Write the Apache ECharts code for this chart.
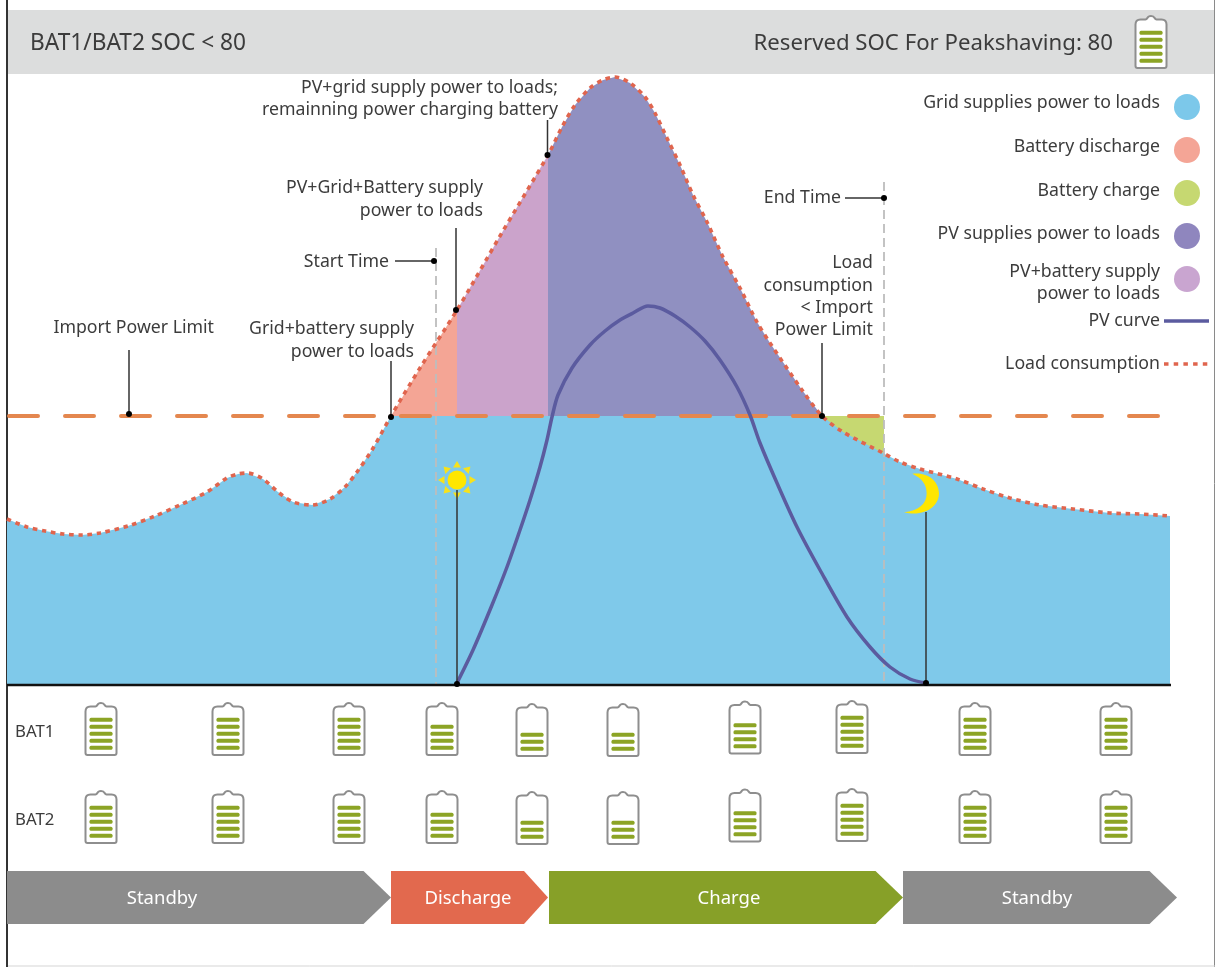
<!DOCTYPE html>
<html>
<head>
<meta charset="utf-8">
<style>html,body{margin:0;padding:0;background:#fff}#c{width:1215px;height:967px}</style>
<script src="https://cdn.jsdelivr.net/npm/echarts@6/dist/echarts.min.js"></script>
</head>
<body>
<div id="c"></div>
<script>
// ---- data (x = time position, y = power level) ----
const loadTime = [7,27,45,63,82,100,128,155,180,207,227,238,247,263,278,293,312,330,345,357,372,391,420,457,500,548,562,575,590,603,615,630,645,655,667,680,693,707,723,740,757,770,802,822,843,883,900,920,957,983,1010,1040,1073,1110,1140,1170];
const loadPower = [166,158,154,151,150,152,159,169,180,193,207,211,212,206,193,183,180,186,198,213,235,269,317,375,449,530,558,580,597,605,608,602,588,572,547,520,490,463,428,397,363,342,295,269,253,232,223,216,206,196,187,180,176,172,171,169];
const pvTime = [457,473,492,507,520,530,540,547,552,558,572,590,605,620,633,648,660,675,690,705,720,737,750,760,777,797,820,847,870,890,910,926];
const pvPower = [2,35,80,118,155,185,218,245,268,290,317,340,354,365,372,379,377,369,358,344,325,298,270,242,202,158,115,68,38,18,6,2];
const importLimit = 269;
const startTime = 436, endTime = 884;
const dischargeStart = 391, pvBatteryStart = 457, pvStart = 548, limitEnd = 822;
const startLineTop = 437, endLineTop = 503;

const batteryTime = [101,228,349,442,532,623,745,852,975,1116];
const bat1Bars = [5,5,5,4,3,3,4,5,5,5];
const bat2Bars = [5,5,5,4,3,3,4,5,5,5];
const headerBars = 5;

const phaseNames = ['Standby','Discharge','Charge','Standby'];
const phaseStart = [7,391,549,903];
const phaseEnd = [391,548,903,1177];

const legendNames = ['Grid supplies power to loads','Battery discharge','Battery charge','PV supplies power to loads','PV+battery supply|power to loads','PV curve','Load consumption'];

// ---- styles ----
const C = {blue:'#7FC9EA',salmon:'#F4A595',green:'#C6D871',pv:'#9090C1',pvBat:'#CBA3CB',
  load:'#E0654E',limit:'#E5834F',pvLine:'#5B5B9F',bar:'#8CA425',shell:'#8E8E8E',text:'#3C3C3C',sun:'#FFE600'};
const FONT = '"Noto Sans","Open Sans",sans-serif';
const base = 685;                 // pixel row of power 0
const lv = py => base - py;       // layout helper: pixel row -> axis level

const pairs = (xs, ys) => xs.map((x,i)=>[x,ys[i]]);
const load = pairs(loadTime, loadPower);
const between = (a,b) => load.filter(p=>p[0]>=a && p[0]<=b);
const gridPart = load.map(p=>[p[0],Math.min(p[1],importLimit)]);

function area(name,data,color,z){
  return {name,type:'line',data,showSymbol:false,smooth:false,silent:true,z,
    lineStyle:{width:0},itemStyle:{color},areaStyle:{color,opacity:1}};
}
function line(name,data,color,width,type,z,extra){
  return Object.assign({name,type:'line',data,showSymbol:false,silent:true,z,
    lineStyle:{color,width,type}},extra||{});
}

// ---- text ----
const SMALL = 17.7, BIG = 22.2;
const labels = [
  ['BAT1/BAT2 SOC < 80',30,lv(43.5),'left',22.7],
  ['Reserved SOC For Peakshaving: 80',1113,lv(43.5),'right',BIG],
  ['PV+grid supply power to loads;',558,lv(87.5),'right',SMALL],
  ['remainning power charging battery',558,lv(110),'right',SMALL],
  ['PV+Grid+Battery supply',483,lv(188),'right',SMALL],
  ['power to loads',483,lv(210.5),'right',SMALL],
  ['Start Time',389,lv(261.5),'right',SMALL],
  ['Import Power Limit',214,lv(327.5),'right',SMALL],
  ['Grid+battery supply',414,lv(329),'right',SMALL],
  ['power to loads',414,lv(351.5),'right',SMALL],
  ['End Time',841,lv(198),'right',SMALL],
  ['Load',873,lv(263),'right',SMALL],
  ['consumption',873,lv(285.5),'right',SMALL],
  ['< Import',873,lv(307.5),'right',SMALL],
  ['Power Limit',873,lv(329.5),'right',SMALL],
  ['BAT1',15,lv(732.5),'left',16.8],
  ['BAT2',15,lv(820.5),'left',16.8]
];
const legendRows = [103,146.5,190.5,233.5,271.5,320.5,364];
legendNames.forEach((n,i)=>{
  const parts = n.split('|');
  parts.forEach((t,k)=>labels.push([t,1160,lv(legendRows[i]+k*22),'right',SMALL]));
});
const swatchRows = [107,150,193,236,279];
const swatchColors = ['#7CC8EA','#F4A596','#C6D871','#8F86BE','#C9A5D0'];

// leaders: x1,y1,x2,y2 with a dot at the second end
const leaders = [
  [129,lv(350),129,lv(414)],
  [391,lv(361),391,lv(417)],
  [456,lv(228),456,lv(310)],
  [547.5,lv(120),547.5,lv(155)],
  [395,lv(261),434,lv(261)],
  [845,lv(198),884,lv(198)],
  [822,lv(343),822,lv(416)],
  [457,lv(490),457,lv(684)],
  [926,lv(512),926,lv(683)]
];

// ---- battery marks ----
const nudge = [0,0,0,0,1,1,-1.5,-2,0,0];   // small row offsets seen in the picture
const batteryMarks = [];
batteryTime.forEach((t,i)=>{
  batteryMarks.push([t,lv(702+nudge[i]),bat1Bars[i]]);
  batteryMarks.push([t,lv(790+nudge[i]),bat2Bars[i]]);
});
batteryMarks.push([1151,lv(15),headerBars]);

const shellPath = 'M5,4 H10 Q11,4 12,2.5 C13,0 18,0 19,2.5 Q20,4 21,4 H26 Q31,4 31,9 V50 Q31,52 29,52 H2 Q0,52 0,50 V9 Q0,4 5,4 Z';
function renderBattery(params,api){
  const p = api.coord([api.value(0),api.value(1)]);
  const n = api.value(2), x=p[0], y=p[1];
  const kids = [{type:'path',shape:{pathData:shellPath,x:x-15.5,y:y+1,width:31,height:52,layout:'cover'},
    style:{fill:'#fff',stroke:C.shell,lineWidth:2}}];
  for(let k=0;k<n;k++){
    kids.push({type:'rect',shape:{x:x-11.5,y:y+54-8.3-7*k-2,width:23,height:4,r:1.5},style:{fill:C.bar}});
  }
  return {type:'group',children:kids};
}
function renderPhase(params,api){
  const i = params.dataIndex;
  const a = api.coord([phaseStart[i],lv(871)]), b = api.coord([phaseEnd[i],lv(924)]);
  const sh = b[0]-(i===1?24:27.5), mid=(a[1]+b[1])/2;
  const colors=['#8C8C8C','#E2694E','#87A028','#8C8C8C'];
  const cx=[162,468,729,1037][i];
  return {type:'group',children:[
    {type:'polygon',shape:{points:[[a[0],a[1]],[sh,a[1]],[b[0],mid],[sh,b[1]],[a[0],b[1]]]},style:{fill:colors[i]}},
    {type:'text',style:{text:phaseNames[i],x:cx,y:mid+1,align:'center',verticalAlign:'middle',fill:'#fff',font:'18.5px '+FONT}}
  ]};
}
function renderLabel(params,api){
  const l = labels[params.dataIndex];
  const p = api.coord([l[1],l[2]]);
  return {type:'text',style:{text:l[0],x:p[0],y:p[1],align:l[3],verticalAlign:'middle',fill:C.text,font:l[4]+'px '+FONT}};
}
function renderLeader(params,api){
  const l = leaders[params.dataIndex];
  const a = api.coord([l[0],l[1]]), b = api.coord([l[2],l[3]]);
  return {type:'group',children:[
    {type:'line',shape:{x1:a[0],y1:a[1],x2:b[0],y2:b[1]},style:{stroke:'#333',lineWidth:1.5}},
    {type:'circle',shape:{cx:b[0],cy:b[1],r:3},style:{fill:'#000'}}
  ]};
}
function renderSun(params,api){
  const p = api.coord([api.value(0),api.value(1)]);
  const kids=[{type:'circle',shape:{cx:p[0],cy:p[1],r:9.5},style:{fill:C.sun}}];
  for(let k=0;k<8;k++){
    const t=k*Math.PI/4, c=Math.cos(t), s=Math.sin(t);
    kids.push({type:'polygon',shape:{points:[[p[0]+12.5*c-4*s,p[1]+12.5*s+4*c],[p[0]+12.5*c+4*s,p[1]+12.5*s-4*c],[p[0]+19*c,p[1]+19*s]]},style:{fill:'#F7E21C'}});
  }
  return {type:'group',children:kids};
}
function renderMoon(params,api){
  const p = api.coord([api.value(0),api.value(1)]);
  return {type:'path',shape:{pathData:'M8,1 C24,-1 34,9 34,20 C34,32 20,43 0,38 C14,37 22,30 22,20 C22,11 17,5 8,1 Z',
    x:p[0],y:p[1],width:35,height:40,layout:'cover'},style:{fill:C.sun}};
}
function custom(name,data,renderItem,z){
  return {name,type:'custom',data,renderItem,z,silent:true,clip:false,encode:{x:0,y:1}};
}

const option = {
  animation:false,
  backgroundColor:'#fff',
  tooltip:{show:false},
  grid:{left:0,right:0,top:0,bottom:0,containLabel:false},
  xAxis:{type:'value',min:0,max:1215,show:false},
  yAxis:{type:'value',min:-282,max:685,show:false},
  graphic:[
    {type:'rect',z:0,shape:{x:8,y:10,width:1206,height:64},style:{fill:'#DCDDDD'}},
    {type:'line',z:1,shape:{x1:7,y1:0,x2:7,y2:967},style:{stroke:'#333',lineWidth:2}},
    {type:'line',z:1,shape:{x1:1214.5,y1:0,x2:1214.5,y2:967},style:{stroke:'#8a8a8a',lineWidth:1}},
    {type:'line',z:1,shape:{x1:8,y1:966,x2:1215,y2:966},style:{stroke:'#d5d5d5',lineWidth:1}}
  ],
  series:[
    area('Battery charge',[[limitEnd,importLimit],[endTime,importLimit]],C.green,2),
    area('Battery discharge',between(dischargeStart,pvBatteryStart),C.salmon,2),
    area('PV+battery supply power to loads',between(pvBatteryStart,pvStart),C.pvBat,3),
    area('PV supplies power to loads',between(pvStart,limitEnd),C.pv,3),
    area('Grid supplies power to loads',gridPart,C.blue,4),
    line('Start Time',[[startTime,startLineTop],[startTime,0]],'#BDBDBD',1.8,[9,5],5),
    line('End Time',[[endTime,endLineTop],[endTime,0]],'#BDBDBD',1.8,[9,5],5),
    line('Import Power Limit',[[9,importLimit],[1158,importLimit]],C.limit,4,[29,27],6,{lineStyle:{color:'#E4874F',width:4,type:[29,27],cap:'round'}}),
    line('Load consumption',load,C.load,3.6,[4.5,4.7],7,{smooth:0.3}),
    line('PV curve',pairs(pvTime,pvPower),C.pvLine,3.5,'solid',8,{smooth:0.3}),
    line('Baseline',[[7,0],[1171,0]],'#111',2.5,'solid',9),
    line('PV curve key',[[1164,lv(321)],[1209,lv(321)]],C.pvLine,3.5,'solid',8),
    line('Load key',[[1164,lv(364)],[1209,lv(364)]],C.load,3.4,[4.5,5.2],8),
    {name:'Legend swatches',type:'scatter',silent:true,symbol:'circle',symbolSize:26,z:8,
      data:swatchRows.map((r,i)=>({value:[1187,lv(r)],itemStyle:{color:swatchColors[i],opacity:1}}))},
    custom('Sun',[[457,lv(480)]],renderSun,9),
    custom('Moon',[[904,lv(473.5)]],renderMoon,9),
    custom('Leaders',leaders.map(l=>[l[0],l[1]]),renderLeader,10),
    custom('Batteries',batteryMarks,renderBattery,9),
    custom('Phases',phaseNames.map((n,i)=>[phaseStart[i],lv(897)]),renderPhase,9),
    custom('Labels',labels.map(l=>[l[1],l[2]]),renderLabel,11)
  ]
};
const chart = echarts.init(document.getElementById('c'));
chart.setOption(option);
</script>
</body>
</html>
